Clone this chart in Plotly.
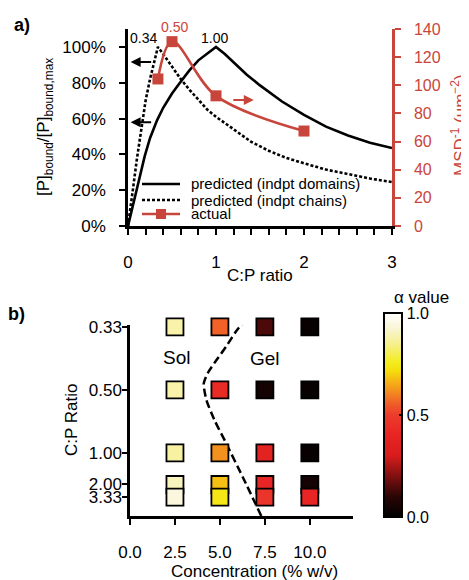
import plotly.graph_objects as go

W, H = 469, 580
OFF = 8  # page body margin of the viewer
RED = "#c8453c"
FONT = "Arial, Liberation Sans, Helvetica, sans-serif"

# ---------------- panel a data ----------------
dom_x = [0, 0.05, 0.1, 0.15, 0.19, 0.25, 0.33, 0.4, 0.5, 0.59, 0.7, 0.8, 0.9, 1.0,
         1.1, 1.2, 1.35, 1.5, 1.75, 2.0, 2.25, 2.5, 2.75, 3.0]
dom_y = [0, 10, 20, 30, 39, 49, 59, 66, 74, 80, 87, 92.5, 96.5, 100,
         96, 91.5, 84.5, 78.5, 69.5, 62, 55.5, 50.5, 46.5, 43.5]

chn_x = [0, 0.03, 0.06, 0.1, 0.15, 0.2, 0.25, 0.3, 0.34, 0.4, 0.5, 0.6, 0.7, 0.8, 0.9,
         1.0, 1.2, 1.4, 1.6, 1.8, 2.0, 2.25, 2.5, 2.75, 3.0]
chn_y = [0, 10, 22, 37, 55, 70, 82, 93, 100, 96, 89, 82, 76, 70.5, 65,
         61, 54, 47, 42, 38, 35, 31.5, 29, 26.5, 24.5]

act_x = [0.34, 0.5, 1.0, 2.0]
act_y = [104.5, 131, 92.5, 67.5]

# ---------------- panel b data ----------------
conc = [2.5, 5.0, 7.5, 10.0]
conc_labels = ["0.0", "2.5", "5.0", "7.5", "10.0"]
conc_ticks = [0, 2.5, 5.0, 7.5, 10.0]
pc_pos = [3.0, 2.0, 1.0, 0.5, 0.3]          # P:C (= 1 / C:P)
cp_labels = ["0.33", "0.50", "1.00", "2.00", "3.33"]
alpha = [
    [0.88, 0.56, 0.14, 0.02],
    [0.88, 0.43, 0.05, 0.02],
    [0.87, 0.62, 0.37, 0.02],
    [0.90, 0.68, 0.41, 0.05],
    [0.94, 0.74, 0.47, 0.40],
]
bnd_x = [6.5, 5.9, 5.35, 4.8, 4.35, 4.1, 4.25, 4.7, 5.3, 6.3, 7.3]
bnd_y = [3.14, 2.93, 2.69, 2.47, 2.28, 2.1, 1.84, 1.52, 1.18, 0.6, 0.0]

hot = [[0.0, "#000000"], [0.1, "#2a0505"], [0.2, "#801010"], [0.3, "#d81c1c"],
       [0.4, "#e82424"], [0.5, "#ec3c2c"], [0.55, "#ef5a28"], [0.6, "#f28222"],
       [0.66, "#f6b016"], [0.72, "#f5e00c"], [0.76, "#f4ec20"], [0.85, "#f6f090"],
       [0.93, "#faf6d8"], [1.0, "#ffffff"]]


def px(x):
    return (x - OFF) / W


def py(y):
    return 1 - (y - OFF) / H


fig = go.Figure()

fig.add_trace(go.Scatter(x=dom_x, y=[v / 100 for v in dom_y], mode="lines",
                         line=dict(color="black", width=2.6), xaxis="x", yaxis="y",
                         showlegend=False, hoverinfo="skip"))
fig.add_trace(go.Scatter(x=chn_x, y=[v / 100 for v in chn_y], mode="lines",
                         line=dict(color="black", width=2.6, dash="3px,2px"),
                         xaxis="x", yaxis="y", showlegend=False, hoverinfo="skip"))
fig.add_trace(go.Scatter(x=act_x, y=act_y, mode="lines+markers",
                         line=dict(color=RED, width=2.6, shape="spline", smoothing=1.0),
                         marker=dict(symbol="square", size=11, color=RED),
                         xaxis="x", yaxis="y3", showlegend=False, cliponaxis=False))

# panel b
xs, ys, cs = [], [], []
for r, yv in enumerate(pc_pos):
    for c, xv in enumerate(conc):
        xs.append(xv)
        ys.append(yv)
        cs.append(alpha[r][c])

fig.add_trace(go.Scatter(x=bnd_x, y=bnd_y, mode="lines",
                         line=dict(color="black", width=2.5, dash="8px,4px", shape="spline", smoothing=0.6),
                         xaxis="x2", yaxis="y2", showlegend=False, cliponaxis=False))
fig.add_trace(go.Scatter(
    x=xs, y=ys, mode="markers", xaxis="x2", yaxis="y2", showlegend=False, cliponaxis=False,
    marker=dict(symbol="square", size=17, color=cs, cmin=0, cmax=1, colorscale=hot,
                line=dict(color="black", width=1.8),
                colorbar=dict(x=px(384), xanchor="left", y=py(415), yanchor="middle",
                              len=204, lenmode="pixels", thickness=18, outlinewidth=2,
                              outlinecolor="black", tickvals=[0, 0.5, 1],
                              ticktext=["0.0", "0.5", "1.0"], ticks="inside", ticklen=4,
                              tickwidth=1.5, tickcolor="black", xpad=0, ypad=0,
                              tickfont=dict(size=16, color="black", family=FONT)))))

axis_common = dict(showgrid=False, zeroline=False, showline=True, linecolor="black",
                   linewidth=2.5, ticks="outside", tickcolor="black", tickwidth=2,
                   automargin=False,
                   tickfont=dict(size=17, color="black", family=FONT))

fig.update_layout(
    template="none",
    width=W, height=H, margin=dict(l=0, r=0, t=0, b=0, pad=0), autosize=False,
    plot_bgcolor="white", paper_bgcolor="white", font=dict(family=FONT, color="black"),
    showlegend=False,
    xaxis=dict(**axis_common, domain=[px(128), px(392)], range=[0, 3], anchor="y",
               tickvals=[0, 1, 2, 3], ticklen=6, ticklabelstandoff=13,
               minor=dict(tickvals=[i * 0.2 for i in range(16)], ticks="outside", ticklen=6,
                          tickwidth=2, tickcolor="black")),
    yaxis=dict(**axis_common, domain=[py(226), py(29)], range=[0, 1.1], anchor="x",
               tickvals=[0, 0.2, 0.4, 0.6, 0.8, 1.0],
               ticktext=["0%", "20%", "40%", "60%", "80%", "100%"], ticklen=6,
               ticklabelstandoff=10),
    yaxis3=dict(showgrid=False, zeroline=False, showline=True, linecolor=RED, linewidth=2.5,
                ticks="outside", tickcolor=RED, tickwidth=2, ticklen=6, overlaying="y",
                side="right", anchor="x", range=[0, 140], tickvals=list(range(0, 141, 20)),
                automargin=False,
                tickfont=dict(size=16, color=RED, family=FONT), ticklabelstandoff=10),
    xaxis2=dict(**axis_common, domain=[px(130), px(353)], range=[0, 12.4], anchor="y2",
                tickvals=conc_ticks, ticktext=conc_labels, ticklen=6, ticklabelstandoff=13),
    yaxis2=dict(**axis_common, domain=[py(516), py(325)], range=[0, 3.03], anchor="x2",
                tickvals=pc_pos, ticktext=cp_labels, ticklen=5, ticklabelstandoff=-3),
)

ann = []


def txt(x, y, s, size=17, color="black", angle=0, xanchor="center", bold=False):
    ann.append(dict(x=px(x), y=py(y), xref="paper", yref="paper", text=f"<b>{s}</b>" if bold else s,
                    showarrow=False, textangle=angle, xanchor=xanchor, yanchor="middle",
                    font=dict(size=size, color=color, family=FONT)))


txt(22, 25, "a)", 18, bold=True)
txt(16, 314, "b)", 18, bold=True)
txt(143, 38, "0.34", 14)
txt(174, 27, "0.50", 14, RED)
txt(214, 38, "1.00", 14)
txt(260, 275, "C:P ratio", 17)
txt(45, 127, "[P]<sub>bound</sub>/[P]<sub>bound,max</sub>", 17, angle=-90)
txt(459, 125, "MSD<sup>-1</sup> (um<sup>−2</sup>)", 17, RED, angle=-90)
txt(189, 184, "predicted (indpt domains)", 15, xanchor="left")
txt(189, 200, "predicted (indpt chains)", 15, xanchor="left")
txt(189, 214, "actual", 15, xanchor="left")
txt(71, 420, "C:P Ratio", 17, angle=-90)
txt(254, 571, "Concentration (% w/v)", 17)
txt(421, 297, "α value", 17)
ann.append(dict(x=2.6, y=2.52, xref="x2", yref="y2", text="Sol", showarrow=False,
                font=dict(size=19, color="black", family=FONT)))
ann.append(dict(x=7.5, y=2.5, xref="x2", yref="y2", text="Gel", showarrow=False,
                font=dict(size=19, color="black", family=FONT)))

# direction arrows
for yy in (0.916, 0.58):
    ann.append(dict(x=0.03, y=yy, xref="x", yref="y", text="", showarrow=True, ax=22, ay=0,
                    arrowhead=2, arrowsize=1, arrowwidth=2, arrowcolor="black"))
ann.append(dict(x=1.43, y=0.704, xref="x", yref="y", text="", showarrow=True, ax=-22, ay=0,
                arrowhead=2, arrowsize=1, arrowwidth=2, arrowcolor=RED))
fig.update_layout(annotations=ann)

# manual legend
shapes = [
    dict(type="line", xref="paper", yref="paper", x0=px(142), x1=px(180), y0=py(184), y1=py(184),
         line=dict(color="black", width=2.6)),
    dict(type="line", xref="paper", yref="paper", x0=px(142), x1=px(180), y0=py(200), y1=py(200),
         line=dict(color="black", width=2.6, dash="3px,2px")),
    dict(type="line", xref="paper", yref="paper", x0=px(142), x1=px(180), y0=py(214), y1=py(214),
         line=dict(color=RED, width=2.6)),
    dict(type="rect", xref="paper", yref="paper", x0=px(156), x1=px(166), y0=py(219), y1=py(209),
         fillcolor=RED, line=dict(width=0)),
]
fig.update_layout(shapes=shapes)

fig.write_html("out.html")
